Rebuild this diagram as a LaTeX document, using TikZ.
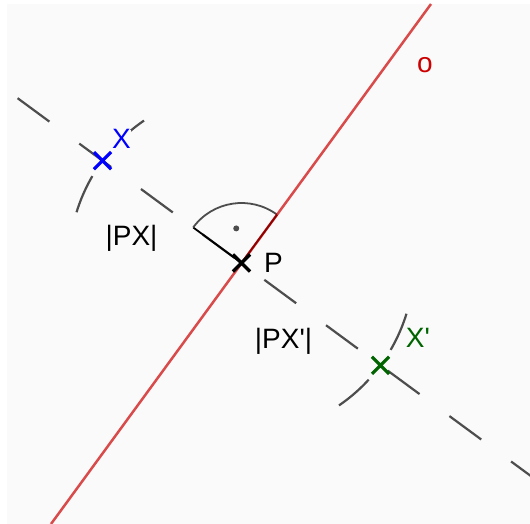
\documentclass[tikz,border=0pt]{standalone}
\usepackage{fontspec}
\setmainfont{Liberation Sans}[Ligatures=TeXOff]
\usetikzlibrary{shapes.misc}
\definecolor{bg}{RGB}{250,250,250}
\definecolor{linered}{RGB}{204,0,0}
\definecolor{darkgreen}{RGB}{0,100,0}
\definecolor{dashgray}{RGB}{77,77,77}

\begin{document}
\begin{tikzpicture}[x=1pt,y=-1pt,
    lbl/.style={font=\fontsize{28}{30}\selectfont, anchor=base, inner sep=0pt, fill=bg},
    crossmark/.style={cross out, draw, line width=3.2pt, minimum size=14pt, inner sep=0pt},
    construction/.style={dashgray, line width=2.2pt, dash pattern=on 39.5pt off 37.1pt}]
    \useasboundingbox (0,0) rectangle (530,524);
    \fill[bg] (7,4) rectangle (530,524);

    %% points
    \coordinate (P) at (241.5,263);
    \coordinate (dA) at (17.6,98.2);
    \coordinate (dB) at (533,477.6);
    \coordinate (oA) at (51,524);
    \coordinate (oB) at (431,4);

    %% perpendicular through X and X' (dashed)
    \draw[construction] (dA) -- (dB);

    %% compass arcs, radius |PX|
    \draw[construction] (P) ++(17.1:172.6) arc[start angle=17.1, end angle=55.6, radius=172.6];
    \draw[construction] (P) ++(197.1:172.6) arc[start angle=197.1, end angle=235.6, radius=172.6];

    %% right angle mark
    \path (P) ++(216.35:60) coordinate (sA);
    \draw[line width=1.8pt] (P) -- (sA);
    \draw[dashgray, line width=1.8pt] (sA) arc[start angle=216.35, end angle=306.35, radius=60] coordinate (sB);
    \draw[line width=1.8pt] (sB) -- (P);
    \fill[dashgray] (P) ++(261.35:35) circle (3);

    %% axis o
    \draw[linered, opacity=0.7, line width=2.5pt] (oA) -- (oB);

    %% points as crosses
    \node[crossmark, blue] (X) at (102.5,160.7) {};
    \node[crossmark] (Pm) at (P) {};
    \node[crossmark, darkgreen] (Xp) at (380.5,365.3) {};

    %% labels
    \node[lbl, text=blue] (labX) at (121.5,149) {X};
    \node[lbl] (labPX) at (131.5,245) {|PX|};
    \node[lbl] (labP) at (273.5,272) {P};
    \node[lbl] (labPXp) at (283.5,348) {|PX'|};
    \node[lbl, text=darkgreen] (labXp) at (418,347) {X'};
    \node[lbl, text=linered] (labO) at (425,73) {o};
\end{tikzpicture}
\end{document}
